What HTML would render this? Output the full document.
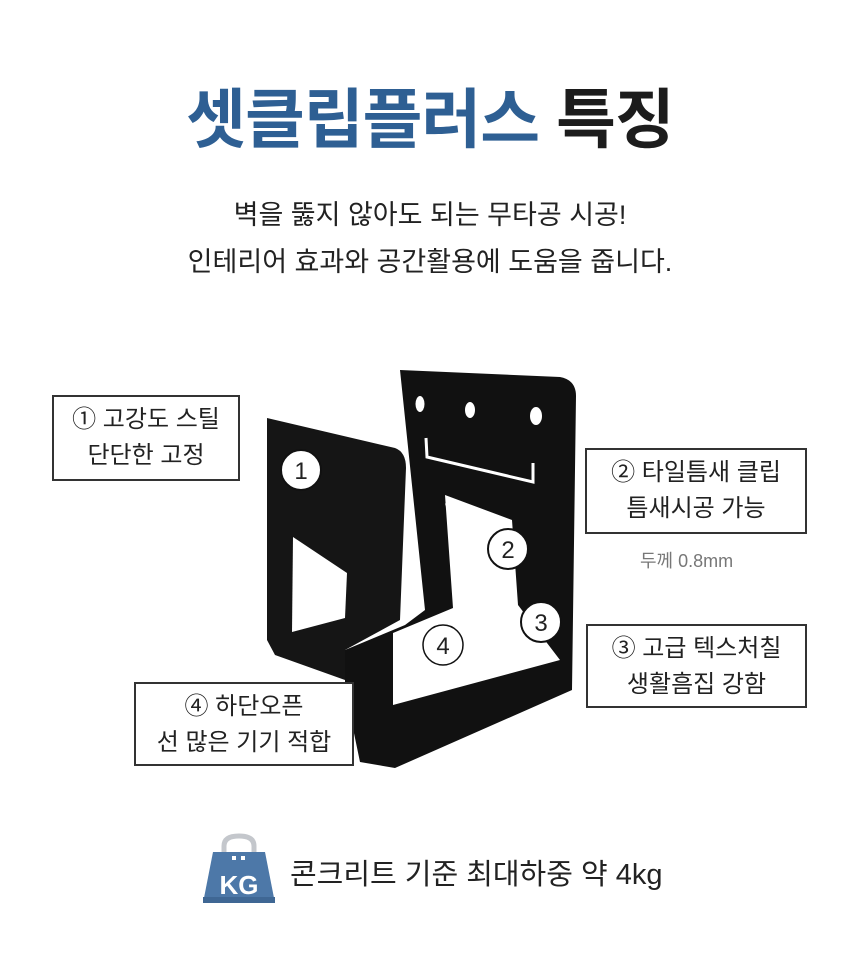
<!DOCTYPE html>
<html><head><meta charset="utf-8"><style>
html,body{margin:0;padding:0;background:#fff;}
body{width:860px;height:979px;overflow:hidden;position:relative;font-family:"Liberation Sans","Noto Sans CJK KR",sans-serif;}
.t{position:absolute;left:0;width:860px;text-align:center;}
.box{position:absolute;border:2px solid #333;box-sizing:border-box;background:#fff;text-align:center;font-size:24px;line-height:36px;color:#222;padding-top:5px;}
</style></head><body>
<div class="t" style="top:80px;font-size:65px;font-weight:bold;line-height:80px;letter-spacing:-1px;"><span style="color:#2e5f93">셋클립플러스</span> <span style="color:#1c1c1c">특징</span></div>
<div class="t" style="top:192px;font-size:27px;line-height:47px;color:#222;">벽을 뚫지 않아도 되는 무타공 시공!<br>인테리어 효과와 공간활용에 도움을 줍니다.</div>

<svg style="position:absolute;left:0;top:0" width="860" height="979">
<path d="M400,370 L560,377 Q576,380 576,396 L572,690 L395,768 L360,762 L345,690 L345,650 L405,625 L425,610 Z" fill="#111"/>
<path d="M445,495 L512,520 L518,605 L560,660 L393,705 L393,633 L453,608 Z" fill="#fff"/>
<ellipse cx="420" cy="404" rx="4.5" ry="8" fill="#fff"/>
<ellipse cx="470" cy="410" rx="5" ry="8" fill="#fff"/>
<ellipse cx="536" cy="416" rx="6" ry="9" fill="#fff"/>
<path d="M426,438 L427,457 L533,482 L533,463" fill="none" stroke="#fff" stroke-width="3"/>
<path d="M447,503 L458,540 M465,512 L470,540 M483,516 L486,535 M498,521 L500,530" stroke="#fff" stroke-width="4" fill="none"/>
<path d="M267,418 L395,448 Q406,452 406,468 L400,620 L345,650 L345,680 L275,655 L267,640 Z" fill="#151515"/>
<path d="M293,537 L347,573 L345,618 L292,632 Z" fill="#fff"/>
<g font-size="24" text-anchor="middle" font-family="Liberation Sans,sans-serif" fill="#222">
<circle cx="301" cy="470" r="20" fill="#fff" stroke="#111" stroke-width="2"/><text x="301" y="479">1</text>
<circle cx="508" cy="549" r="20" fill="#fff" stroke="#111" stroke-width="2"/><text x="508" y="558">2</text>
<circle cx="541" cy="622" r="20" fill="#fff" stroke="#111" stroke-width="2"/><text x="541" y="631">3</text>
<circle cx="443" cy="645" r="20" fill="#fff" stroke="#111" stroke-width="1.5"/><text x="443" y="654">4</text>
</g>
<path d="M224,852 L224,846 Q224,836 239,836 Q254,836 254,846 L254,852" fill="none" stroke="#c4c7cc" stroke-width="5"/>
<path d="M213,852 L265,852 L275,903 L203,903 Z" fill="#4d78a8"/>
<rect x="203" y="897" width="72" height="6" fill="#3f6794"/>
<rect x="232" y="856" width="4" height="4" fill="#fff"/><rect x="241" y="856" width="4" height="4" fill="#fff"/>
<text x="239" y="894" font-size="26" font-weight="bold" fill="#fff" text-anchor="middle" font-family="Liberation Sans,sans-serif">KG</text>
</svg>

<div class="box" style="left:52px;top:395px;width:188px;height:86px;">① 고강도 스틸<br>단단한 고정</div>
<div class="box" style="left:585px;top:448px;width:222px;height:86px;">② 타일틈새 클립<br>틈새시공 가능</div>
<div style="position:absolute;left:640px;top:547px;font-size:18px;color:#777;">두께 0.8mm</div>
<div class="box" style="left:586px;top:624px;width:221px;height:84px;">③ 고급 텍스처칠<br>생활흠집 강함</div>
<div class="box" style="left:134px;top:682px;width:220px;height:84px;">④ 하단오픈<br>선 많은 기기 적합</div>
<div style="position:absolute;left:290px;top:856px;font-size:29px;color:#222;line-height:38px;">콘크리트 기준 최대하중 약 4kg</div>
</body></html>
